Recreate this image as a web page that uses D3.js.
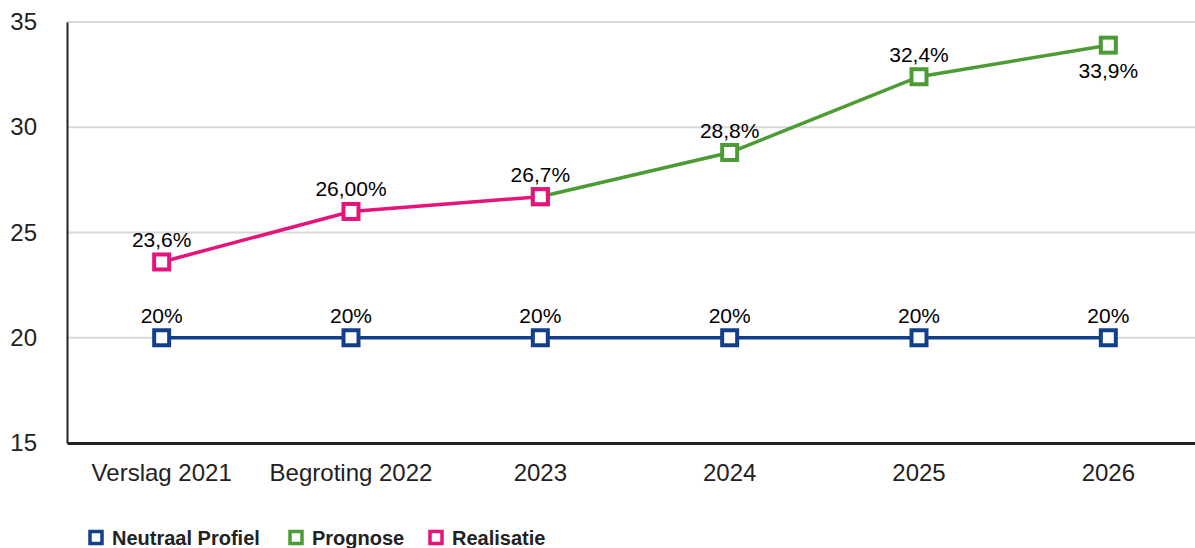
<!DOCTYPE html>
<html>
<head>
<meta charset="utf-8">
<script src="https://cdn.jsdelivr.net/npm/d3@7"></script>
<style>
  body { margin: 0; background: #fff; }
  svg { font-family: "Liberation Sans", Arial, sans-serif; }
</style>
</head>
<body>
<div id="chart"></div>
<script>
// data
const categories = ["Verslag 2021", "Begroting 2022", "2023", "2024", "2025", "2026"];
const neutraal = [20, 20, 20, 20, 20, 20];
const neutraalLabels = ["20%", "20%", "20%", "20%", "20%", "20%"];
const prognose = [null, null, 26.7, 28.8, 32.4, 33.9];
const prognoseLabels = [null, null, null, "28,8%", "32,4%", "33,9%"];
const realisatie = [23.6, 26.0, 26.7, null, null, null];
const realisatieLabels = ["23,6%", "26,00%", "26,7%", null, null, null];
const yTicks = [15, 20, 25, 30, 35];

const series = [
  { name: "Neutraal Profiel", values: neutraal, labels: neutraalLabels, color: "#113f8c" },
  { name: "Prognose", values: prognose, labels: prognoseLabels, color: "#4c9b35" },
  { name: "Realisatie", values: realisatie, labels: realisatieLabels, color: "#e5137a" }
];

const W = 1195, H = 548;
const svg = d3.select("#chart").append("svg").attr("width", W).attr("height", H);

const x = d3.scaleBand().domain(categories).range([67, 1203]);
const y = d3.scaleLinear().domain([15, 35]).range([443, 22]);

// grid
svg.append("g").selectAll("line").data(yTicks.filter(d => d > 15)).enter().append("line")
  .attr("x1", 67).attr("x2", W)
  .attr("y1", d => y(d)).attr("y2", d => y(d))
  .attr("stroke", "#d9d9d9").attr("stroke-width", 2);

// y axis
const yAxis = svg.append("g").attr("transform", "translate(67,0)")
  .call(d3.axisLeft(y).tickValues(yTicks).tickSize(0).tickPadding(30));
yAxis.select(".domain").attr("stroke", "#222").attr("stroke-width", 2);
yAxis.selectAll("text").attr("font-size", 24).attr("fill", "#222")
  .attr("font-family", "Liberation Sans, Arial, sans-serif");

// x axis
const xAxis = svg.append("g").attr("transform", "translate(0,443)")
  .call(d3.axisBottom(x).tickSize(0).tickPadding(21));
xAxis.select(".domain").attr("stroke", "#222").attr("stroke-width", 3);
xAxis.selectAll("text").attr("font-size", 24).attr("fill", "#222")
  .attr("font-family", "Liberation Sans, Arial, sans-serif");

const cx = c => x(c) + x.bandwidth() / 2;

const line = d3.line()
  .defined(d => d.v != null)
  .x(d => cx(d.c))
  .y(d => y(d.v));

series.forEach(s => {
  const pts = categories.map((c, i) => ({ c: c, v: s.values[i], l: s.labels[i] }));
  const g = svg.append("g");
  g.append("path").datum(pts)
    .attr("d", line).attr("fill", "none")
    .attr("stroke", s.color).attr("stroke-width", 3.5);
  const def = pts.filter(d => d.v != null);
  g.selectAll("rect").data(def).enter().append("rect")
    .attr("x", d => cx(d.c) - 7.5).attr("y", d => y(d.v) - 7.5)
    .attr("width", 15).attr("height", 15)
    .attr("fill", "#fff").attr("stroke", s.color).attr("stroke-width", 4);
  g.selectAll("text").data(def.filter(d => d.l)).enter().append("text")
    .attr("x", d => cx(d.c))
    .attr("y", d => d.c === "2026" && s.name === "Prognose" ? y(d.v) + 33 : y(d.v) - 15)
    .attr("text-anchor", "middle")
    .attr("font-size", 21).attr("fill", "#000")
    .text(d => d.l);
});

// legend
const legendX = [88, 288, 428];
const legend = svg.append("g");
series.forEach((s, i) => {
  legend.append("rect")
    .attr("x", legendX[i] + 2).attr("y", 531.5)
    .attr("width", 12).attr("height", 12)
    .attr("fill", "#fff").attr("stroke", s.color).attr("stroke-width", 3.5);
  legend.append("text")
    .attr("x", legendX[i] + 24).attr("y", 545)
    .attr("font-size", 20).attr("font-weight", "bold").attr("fill", "#222")
    .text(s.name);
});
</script>
</body>
</html>
